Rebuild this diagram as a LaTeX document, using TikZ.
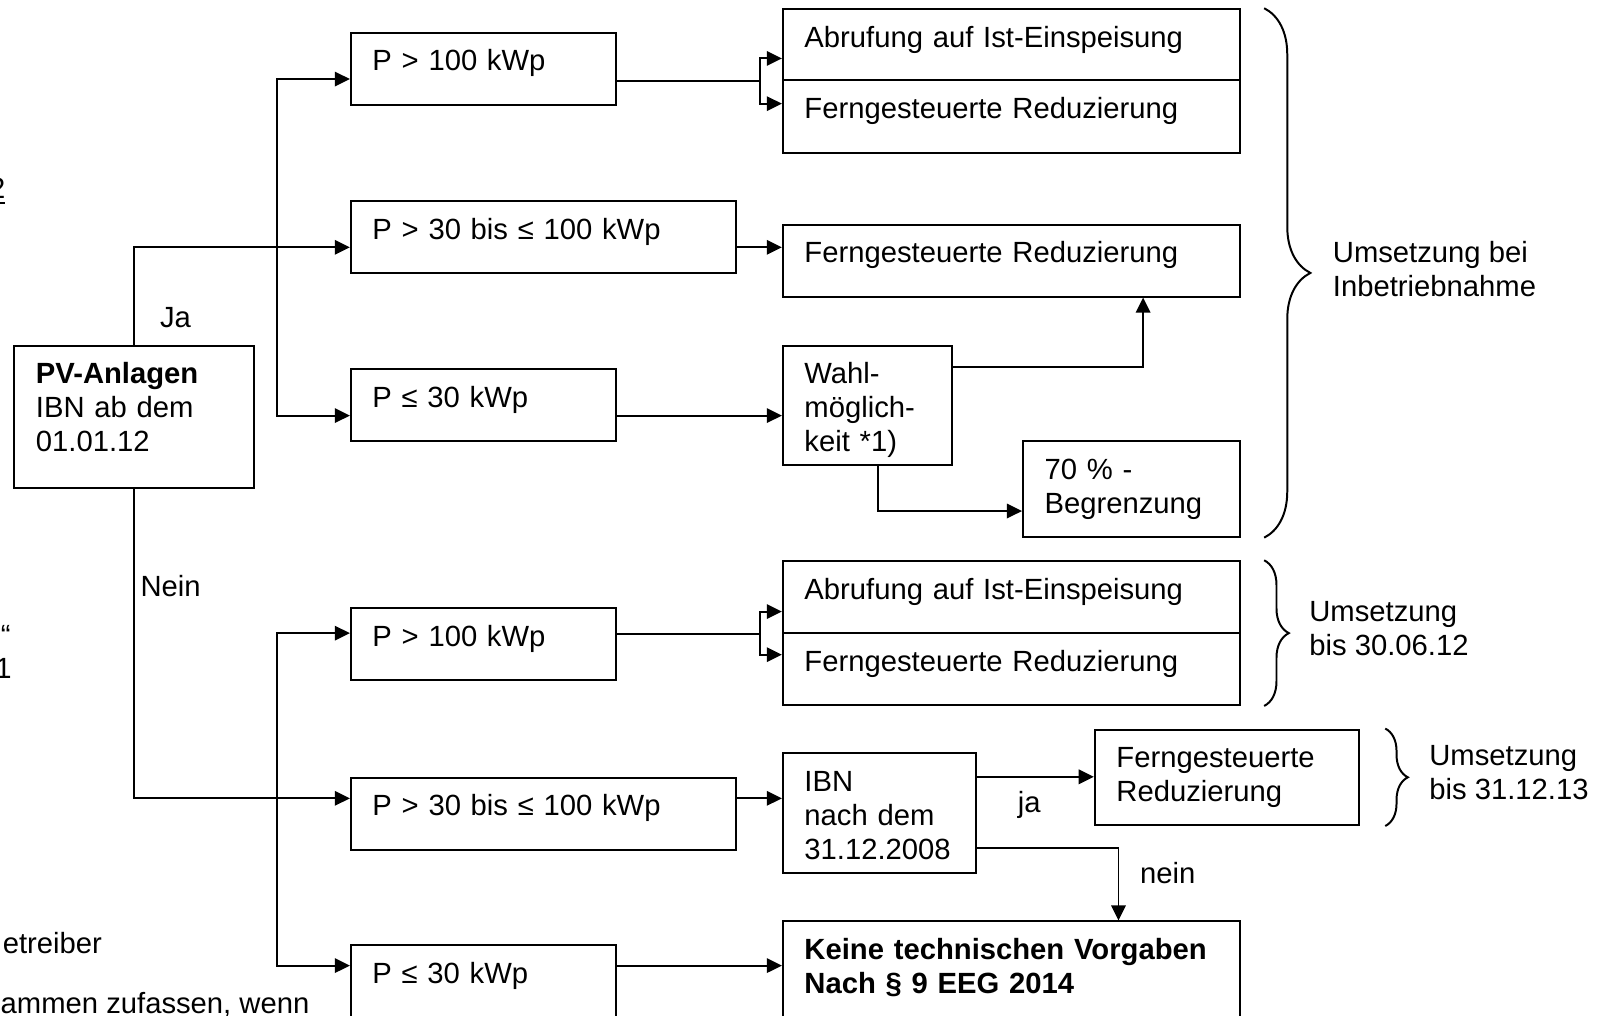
\documentclass[tikz,border=0pt]{standalone}
\usepackage{fontspec}
\setmainfont{Liberation Sans}
\usetikzlibrary{arrows.meta,calc,decorations.pathreplacing}
\tikzset{
  >={Triangle[length=4.2pt,width=4pt]},
  box/.style 2 args={draw,line width=.55pt,anchor=north west,
    inner xsep=.21cm,inner ysep=0pt,align=left,
    text width={(#1-42)*.01cm},text height=.37cm,text depth={(#2-37)*.01cm}},
}
\tikzstyle{conn}=[line width=.55pt]
\tikzstyle{arr}=[line width=.55pt,->]
\tikzstyle{brace}=[decorate,line width=.55pt]
\tikzstyle{lbl}=[inner sep=0pt]
\tikzstyle{every node}=[font=\fontsize{8.1}{9.4}\selectfont]

\begin{document}
\begin{tikzpicture}[x=.01cm,y=-.01cm]
    \useasboundingbox (0,0) rectangle (1568,990);
    % start
    \node[box={234}{139}] (pv) at (13,336) {\textbf{PV-Anlagen}\\IBN ab dem\\01.01.12};
    % Ja-Zweig
    \node[box={258}{70}] (a1) at (341,31) {P > 100 kWp};
    \node[box={375}{70}] (a2) at (341,195) {P > 30 bis ≤ 100 kWp};
    \node[box={258}{70}] (a3) at (341,359) {P ≤ 30 kWp};
    \node[box={445}{69}] (b1) at (762,8) {Abrufung auf Ist-Einspeisung};
    \node[box={445}{71}] (b2) at (762,77) {Ferngesteuerte Reduzierung};
    \node[box={445}{70}] (b3) at (762,218) {Ferngesteuerte Reduzierung};
    \node[box={165}{116}] (wahl) at (762,336) {Wahl-\\möglich-\\keit *1)};
    \node[box={211}{93}] (lim) at (996,429) {70 \% -\\Begrenzung};
    % Nein-Zweig
    \node[box={258}{70}] (c1) at (341,592) {P > 100 kWp};
    \node[box={375}{70}] (c2) at (341,757) {P > 30 bis ≤ 100 kWp};
    \node[box={258}{80}] (c3) at (341,920) {P ≤ 30 kWp};
    \node[box={445}{70}] (d1) at (762,546) {Abrufung auf Ist-Einspeisung};
    \node[box={445}{70}] (d2) at (762,616) {Ferngesteuerte Reduzierung};
    \node[box={188}{117}] (ibn) at (762,733) {IBN\\nach dem\\31.12.2008};
    \node[box={257}{93}] (fern) at (1066,710) {Ferngesteuerte\\Reduzierung};
    \node[box={445}{110}] (keine) at (762,897) {\textbf{Keine technischen Vorgaben}\\\textbf{Nach § 9 EEG 2014}};

    \coordinate (jt) at ($(a2.north west)+(-71,46)$);
    \coordinate (jb) at ($(c2.north west)+(-71,21)$);

    \draw[arr] (pv.north) |- ($(a2.north west)+(0,46)$)
        node[lbl,pos=.14,anchor=west,xshift=.24cm] (ja) {Ja};
    \draw[arr] (jt) |- ($(a1.north west)+(0,46)$);
    \draw[arr] (jt) |- ($(a3.north west)+(0,46)$);
    \draw[conn] (a1.east |- b1.south) -- ++(140,0) coordinate (f1);
    \draw[arr] (f1) |- ($(b1.south west)+(0,-22)$);
    \draw[arr] (f1) |- ($(b2.north west)+(0,24)$);
    \draw[arr] ($(a2.north east)+(0,46)$) -- ($(b3.north west)+(0,23)$);
    \draw[arr] ($(a3.north east)+(0,46)$) -- ($(wahl.north west)+(0,69)$);
    \draw[arr] ($(wahl.north east)+(0,22)$) -| ($(b3.south west)+(352,0)$);
    \draw[arr] ($(wahl.south west)+(94,0)$) |- ($(lim.north west)+(0,69)$);

    \draw[arr] (pv.south) |- ($(c2.north west)+(0,21)$)
        node[lbl,pos=.157,anchor=west,xshift=.05cm] (nein) {Nein};
    \draw[arr] (jb) |- ($(c1.north west)+(0,25)$);
    \draw[arr] (jb) |- ($(c3.north west)+(0,21)$);
    \draw[conn] (c1.east |- d1.south) -- ++(140,0) coordinate (f2);
    \draw[arr] (f2) |- ($(d1.south west)+(0,-22)$);
    \draw[arr] (f2) |- ($(d2.north west)+(0,22)$);
    \draw[arr] ($(c2.north east)+(0,21)$) -- ($(ibn.north west)+(0,45)$);
    \draw[arr] ($(ibn.north east)+(0,24)$) -- ($(fern.north west)+(0,47)$)
        node[lbl,midway,anchor=north,xshift=-.06cm,yshift=-.13cm] (jaklein) {ja};
    \draw[arr] ($(ibn.north east)+(0,93)$) -| ($(keine.north west)+(328,0)$)
        node[lbl,pos=.75,anchor=west,xshift=.2cm,yshift=.11cm] (neinklein) {nein};
    \draw[arr] ($(c3.north east)+(0,21)$) -- ($(keine.north west)+(0,44)$);

    % Klammern
    \draw[brace,decoration={brace,amplitude=.45cm}]
        ($(b1.north east)+(23,0)$) -- ($(lim.south east)+(23,0)$)
        node[lbl,midway,anchor=west,xshift=.66cm,yshift=.04cm,align=left] (u1) {Umsetzung bei\\Inbetriebnahme};
    \draw[brace,decoration={brace,amplitude=.24cm}]
        ($(d1.north east)+(23,0)$) -- ($(d2.south east)+(23,0)$)
        node[lbl,midway,anchor=west,xshift=.43cm,yshift=.04cm,align=left] (u2) {Umsetzung\\bis 30.06.12};
    \draw[brace,decoration={brace,amplitude=.22cm}]
        ($(fern.north east)+(25,0)$) -- ($(fern.south east)+(25,0)$)
        node[lbl,midway,anchor=west,xshift=.42cm,yshift=.045cm,align=left] (u3) {Umsetzung\\bis 31.12.13};

    % Reste am Rand
    \node[lbl,anchor=base east] (r1) at (6,193) {\underline{2}};
    \node[lbl,anchor=base east] (r2) at (11,629) {“};
    \node[lbl,anchor=base east] (r3) at (12,661) {1};
    \node[lbl,anchor=base west] (r4) at (2,929) {etreiber};
    \node[lbl,anchor=base west] (r5) at (0,988) {ammen zufassen, wenn};
\end{tikzpicture}
\end{document}
